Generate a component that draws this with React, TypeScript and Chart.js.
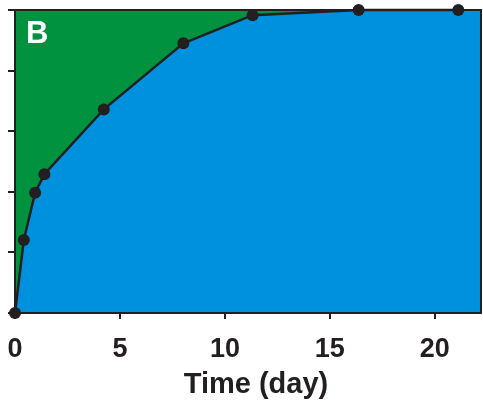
import React, { useEffect, useRef } from "react";
import { Chart, registerables } from "chart.js";

Chart.register(...registerables);

const timeDays = [0, 0.42, 0.96, 1.4, 4.23, 8.02, 11.32, 16.37, 21.12];
const values = [0, 24.1, 39.7, 45.8, 67.2, 89.0, 98.3, 100, 100];
const xTicks = [0, 5, 10, 15, 20];
const yTicks = [0, 20, 40, 60, 80, 100];
const xTitle = "Time (day)";
const panelLabel = "B";

const GREEN = "rgb(0,146,63)";
const BLUE = "rgb(0,145,222)";
const INK = "#231f20";
const FONT = "'Liberation Sans', Arial, sans-serif";

const decor = {
  id: "decor",
  beforeDraw(chart: any) {
    const { ctx, chartArea: a } = chart;
    ctx.save();
    ctx.fillStyle = BLUE;
    ctx.fillRect(a.left, a.top, a.right - a.left, a.bottom - a.top);
    ctx.restore();
  },
  afterDatasetsDraw(chart: any) {
    const { ctx, chartArea: a } = chart;
    ctx.save();
    ctx.strokeStyle = INK;
    ctx.lineWidth = 2;
    ctx.strokeRect(a.left, a.top, a.right - a.left, a.bottom - a.top);
    ctx.restore();
  },
  afterDraw(chart: any) {
    const { ctx, chartArea: a } = chart;
    ctx.save();
    ctx.fillStyle = "#ffffff";
    ctx.font = `bold 31px ${FONT}`;
    ctx.textBaseline = "alphabetic";
    ctx.textAlign = "left";
    ctx.fillText(panelLabel, a.left + 11, a.top + 33);
    ctx.fillStyle = INK;
    ctx.font = `bold 29px ${FONT}`;
    ctx.textAlign = "center";
    ctx.fillText(xTitle, 256, 393);
    ctx.restore();
  },
};

export default function App() {
  const ref = useRef<HTMLCanvasElement | null>(null);
  useEffect(() => {
    if (!ref.current) return;
    const chart = new Chart(ref.current, {
      type: "line",
      data: {
        datasets: [
          {
            data: timeDays.map((x, i) => ({ x, y: values[i] })),
            borderColor: INK,
            borderWidth: 2.5,
            backgroundColor: GREEN,
            fill: "end",
            pointRadius: 6,
            pointBackgroundColor: INK,
            pointBorderColor: INK,
            pointBorderWidth: 0,
            tension: 0,
            clip: false as any,
          },
        ],
      },
      options: {
        animation: false,
        responsive: false,
        devicePixelRatio: 1,
        layout: { autoPadding: false, padding: { left: 8, top: 10, right: 2, bottom: 0 } },
        plugins: { legend: { display: false }, tooltip: { enabled: false } },
        scales: {
          x: {
            type: "linear",
            min: 0,
            max: 22.2,
            afterBuildTicks: (s: any) => {
              s.ticks = xTicks.map((v) => ({ value: v }));
            },
            afterFit: (s: any) => {
              s.height = 89;
              s.paddingLeft = 0;
              s.paddingRight = 0;
            },
            grid: { drawOnChartArea: false, drawTicks: true, tickLength: 6, color: INK, lineWidth: 2 },
            border: { display: false },
            ticks: {
              color: INK,
              font: { family: FONT, size: 27, weight: "bold" },
              padding: 14,
              maxRotation: 0,
            },
          },
          y: {
            type: "linear",
            min: 0,
            max: 100,
            afterBuildTicks: (s: any) => {
              s.ticks = yTicks.map((v) => ({ value: v }));
            },
            afterFit: (s: any) => {
              s.width = 7;
              s.paddingTop = 0;
              s.paddingBottom = 0;
            },
            grid: { drawOnChartArea: false, drawTicks: true, tickLength: 7, color: INK, lineWidth: 2 },
            border: { display: false },
            ticks: { display: false },
          },
        },
      },
      plugins: [decor],
    });
    return () => chart.destroy();
  }, []);
  return (
    <div style={{ position: "absolute", left: 0, top: 0, width: 483, height: 402 }}>
      <canvas ref={ref} width={483} height={402} style={{ display: "block" }} />
    </div>
  );
}
